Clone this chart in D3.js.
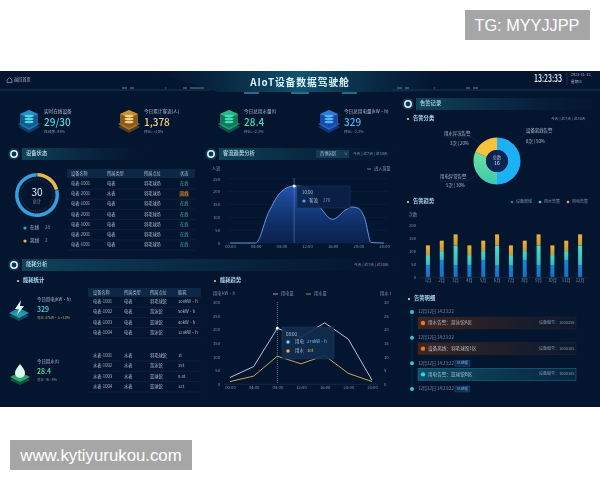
<!DOCTYPE html>
<html>
<head>
<meta charset="utf-8">
<script src="https://cdn.jsdelivr.net/npm/d3@7"></script>
<style>
  html, body { margin: 0; padding: 0; background: #fff; }
  svg { display: block; }
  text { font-family: "Noto Sans CJK SC", "Noto Sans", sans-serif; }
  .board { filter: blur(0.5px); }
</style>
</head>
<body>
<svg id="chart" width="600" height="480"></svg>
<script>
// values
var kpiLabels = ['实时在线设备', '今日累计客流(人)', '今日总用水量(t)', '今日总用电量(kW·h)'];
var kpiValues = ['29/30', '1,378', '28.4', '329'];
var kpiNotes = ['在线率: 98%', '环比: +10%', '环比: -2.3%', '环比: -2.3%'];
var statusTotals = [28, 2];
var statusNames = ['在线', '离线'];
var ringShares = [21, 79];
var deviceHead = ['设备名称', '所属类型', '所属点位', '状态'];
var deviceNames = ['电表-1001', '电表-2001', '电表-1001', '电表-2001', '电表-1001', '电表-2001', '电表-1001'];
var deviceTypes = ['电表', '水表', '电表', '电表', '电表', '电表', '电表'];
var deviceStates = ['在线', '离线', '在线', '在线', '在线', '在线', '在线'];
var flowHours = [0, 2, 4, 6, 8, 10, 12, 14, 16, 18, 19, 20, 21, 22, 24];
var flowValues = [0, 0, 0, 118, 200, 222, 215, 140, 92, 128, 140, 135, 95, 2, 0];
var energyHours = [0, 4, 8, 12, 16, 20, 24];
var elecValues = [25, 65, 205, 172, 225, 165, 15];
var waterValues = [1, 3, 10.3, 7.5, 10.5, 4, 1];
var elecRows = ['电表-1001', '电表-1002', '电表-1003', '电表-1004'];
var elecPlaces = ['羽毛球馆', '游泳馆', '篮球馆', '游泳馆'];
var elecUse = ['100kW·h', '50kW·h', '40kW·h', '120kW·h'];
var waterRows = ['水表-1001', '水表-1002', '水表-1003', '水表-1004'];
var waterPlaces = ['羽毛球馆', '游泳馆', '篮球馆', '篮球馆'];
var waterUse = ['1t', '15t', '0.4t', '12t'];
var alarmKinds = ['设备离线告警', '用电异常告警', '用水异况告警'];
var alarmCounts = [8, 5, 3];
var alarmTexts = ['8次 | 50%', '5次 | 30%', '3次 | 20%'];
var months = ['1月', '2月', '3月', '4月', '5月', '6月', '7月', '8月', '9月', '10月', '11月', '12月'];
var offlineBars = [45, 66, 45, 45, 66, 45, 45, 66, 45, 45, 66, 45];
var waterBars = [40, 34, 76, 40, 34, 76, 40, 34, 76, 40, 34, 76];
var elecBars = [37, 40, 43, 37, 40, 43, 37, 40, 43, 37, 40, 43];
var logTimes = ['12月12日 14:23:22', '12月12日 14:23:22', '12月12日 14:23:22', '12月12日 14:23:22'];
var logTexts = ['用水告警：游泳馆A区', '设备离线：羽毛球馆1区', '用电告警：篮球馆B区'];
var logCodes = ['设备编号：1000256', '设备编号：1000102', '设备编号：1000145'];

var svg = d3.select('#chart');
var defs = svg.append('defs');

var grad = function(id, stops, x2, y2) {
  var g = defs.append('linearGradient').attr('id', id)
    .attr('x1', 0).attr('y1', 0).attr('x2', x2).attr('y2', y2);
  stops.forEach(function(s) {
    g.append('stop').attr('offset', s[0]).attr('stop-color', s[1]).attr('stop-opacity', s[2]);
  });
};
grad('bar', [[0, '#0f4a60', 0.9], [0.55, '#0b3048', 0.6], [1, '#0a2038', 0.05]], 1, 0);
grad('area', [[0, '#2458b8', 0.95], [1, '#123070', 0.45]], 0, 1);
grad('head', [[0, '#0b2a44', 0], [0.5, '#115a78', 0.9], [1, '#0b2a44', 0]], 1, 0);
grad('ringG', [[0, '#6fe0a0', 1], [1, '#3cc8b0', 1]], 0, 1);
grad('card0', [[0, '#40261e', 1], [1, '#141c30', 0.6]], 1, 0);
grad('card1', [[0, '#0f5068', 1], [1, '#0a2c48', 0.7]], 1, 0);

// watermarks
svg.append('rect').attr('x', 465).attr('y', 10).attr('width', 125).attr('height', 30).attr('fill', '#a6a6a6');
svg.append('text').attr('x', 527).attr('y', 31).attr('text-anchor', 'middle').attr('fill', '#fff')
  .attr('font-size', 16.3).style('font-family', 'Liberation Sans').text('TG: MYYJJPP');
svg.append('rect').attr('x', 10).attr('y', 440).attr('width', 182).attr('height', 30).attr('fill', '#a6a6a6');
svg.append('text').attr('x', 101).attr('y', 461).attr('text-anchor', 'middle').attr('fill', '#fff')
  .attr('font-size', 16.8).style('font-family', 'Liberation Sans').text('www.kytiyurukou.com');

var board = svg.append('g').attr('class', 'board');
board.append('rect').attr('x', 0).attr('y', 71).attr('width', 600).attr('height', 336).attr('fill', '#041530');

var txt = function(x, y, s, size, color, anchor, weight) {
  return board.append('text').attr('x', x).attr('y', y).attr('font-size', size)
    .attr('fill', color).attr('text-anchor', anchor || 'start')
    .attr('font-weight', weight || 400).attr('dominant-baseline', 'middle').text(s);
};
var dim = '#7f96ad', soft = '#aebfce';

// header
board.append('path').attr('d', 'M150 71H450L425 92H218Z').attr('fill', 'url(#head)');
board.append('path').attr('d', 'M0 90H210M392 90H600').attr('stroke', '#123a58').attr('stroke-width', 1);
board.append('path').attr('d', 'M122 88H127M130 88H134M165 88H166M183 88H187M190 88H204M397 88H402M405 88H409M434 88H435M466 88H470M473 88H478')
  .attr('stroke', '#8aa0b4').attr('stroke-width', 0.8);
board.append('path').attr('d', 'M244 93H259M291 93H309M342 93H357').attr('stroke', '#39c8d8').attr('stroke-width', 1);
txt(300, 83, 'AIoT设备数据驾驶舱', 9.8, '#dff6fb', 'middle', 700).attr('letter-spacing', 0.9);
txt(14, 80, '返回首页', 4.2, soft);
board.append('path').attr('d', 'M7 80l2.5-2.5 2.5 2.5v2.5h-5z').attr('fill', 'none').attr('stroke', soft).attr('stroke-width', 0.6);
txt(534, 79.5, '13:23:33', 10, '#e9f2f7', 'start', 500).attr('textLength', 28).attr('lengthAdjust', 'spacingAndGlyphs');
txt(571, 75, '2023-11-12', 3.8, soft);
txt(571, 82, '星期三', 3.8, soft);
board.append('line').attr('x1', 567).attr('x2', 567).attr('y1', 73).attr('y2', 85).attr('stroke', '#33506a').attr('stroke-width', 0.5);

var section = function(x, y, w, title) {
  board.append('rect').attr('x', x + 8).attr('y', y - 6).attr('width', w).attr('height', 12).attr('fill', 'url(#bar)');
  board.append('circle').attr('cx', x).attr('cy', y).attr('r', 6).attr('fill', '#0f4f66').attr('fill-opacity', 0.6);
  board.append('circle').attr('cx', x).attr('cy', y).attr('r', 3.2).attr('fill', 'none').attr('stroke', '#e4f4fa').attr('stroke-width', 1.5);
  txt(x + 12, y, title, 5.3, '#c8dfea', 'start', 500);
};
var subhead = function(x, y, title, dotColor) {
  board.append('circle').attr('cx', x).attr('cy', y).attr('r', 1.1).attr('fill', dotColor || '#e8d890');
  txt(x + 5, y, title, 5.3, '#b0dcef', 'start', 700);
};

// kpi row
var kpiX = d3.scaleLinear().domain([0, 3]).range([18, 318]);
var kpiColors = [['#2fa8e0', '#135a94', '#4fd8e0'], ['#e8a838', '#8c5a18', '#f0cf88'], ['#2fd8a0', '#127a58', '#3fe0b8'], ['#3a90f0', '#1a48a8', '#4fb8f0']];
var drawIcon = function(g, c) {
  g.append('path').attr('d', 'M0 15L11 9 22 15 11 21Z').attr('fill', c[1]).attr('opacity', 0.6).attr('transform', 'translate(0,2)');
  g.append('path').attr('d', 'M0 14L11 8 22 14 11 20Z').attr('fill', c[0]).attr('opacity', 0.55);
  g.append('path').attr('d', 'M11 0L20 4V13L11 18 2 13V4Z').attr('fill', c[1]);
  g.append('path').attr('d', 'M11 0L20 4 11 8 2 4Z').attr('fill', c[0]).attr('opacity', 0.7);
  [6, 9, 12].forEach(function(y) {
    g.append('ellipse').attr('cx', 11).attr('cy', y).attr('rx', 4.5).attr('ry', 1.3).attr('fill', c[2]);
  });
};
kpiLabels.forEach(function(label, i) {
  var x = kpiX(i);
  drawIcon(board.append('g').attr('transform', 'translate(' + x + ',110)'), kpiColors[i]);
  txt(x + 26, 112, label, 4.6, soft);
  txt(x + 26, 123, kpiValues[i], 10, kpiColors[i][2], 'start', 500);
  txt(x + 26, 132, kpiNotes[i], 3.8, dim);
});

// device status
section(14, 154, 126, '设备状态');
var arc = d3.arc();
var ringPie = d3.pie().sort(null).value(function(d) { return d; })(ringShares);
var ring = board.append('g').attr('transform', 'translate(37,195)');
ring.selectAll('path').data(ringPie).enter().append('path')
  .attr('d', function(d) { return arc({innerRadius: 18.5, outerRadius: 22, startAngle: d.startAngle, endAngle: d.endAngle, padAngle: 0.02}); })
  .attr('fill', function(d, i) { return ['#e8b84c', '#35a0e0'][i]; });
ring.append('circle').attr('r', 16).attr('fill', 'none').attr('stroke', '#2d6d98').attr('stroke-width', 0.5).attr('stroke-dasharray', '1 1');
txt(37, 193, '30', 10, '#f0f6fa', 'middle');
txt(37, 202, '总计', 4.2, dim, 'middle');
statusNames.forEach(function(name, i) {
  var y = 228 + i * 13;
  board.append('circle').attr('cx', 25).attr('cy', y).attr('r', 1.6).attr('fill', ['#35a0e0', '#e8b84c'][i]);
  txt(30, y, name, 4.6, soft);
  txt(45, y, statusTotals[i], 4.6, dim);
});

var tableRow = d3.scaleLinear().domain([0, 6]).range([184, 245]);
var deviceCols = [71, 107, 144, 180];
board.append('rect').attr('x', 67).attr('y', 169).attr('width', 128).attr('height', 9).attr('fill', '#0d2746');
deviceHead.forEach(function(h, i) { txt(deviceCols[i], 173.5, h, 4.2, soft); });
deviceNames.forEach(function(name, i) {
  var y = tableRow(i);
  board.append('line').attr('x1', 67).attr('x2', 195).attr('y1', y + 5).attr('y2', y + 5).attr('stroke', '#12304a').attr('stroke-width', 0.5);
  txt(deviceCols[0], y, name, 4.2, soft);
  txt(deviceCols[1], y, deviceTypes[i], 4.2, soft);
  txt(deviceCols[2], y, '羽毛球场', 4.2, soft);
  if (deviceStates[i] === '离线') {
    board.append('rect').attr('x', 179).attr('y', y - 3).attr('width', 10).attr('height', 6).attr('fill', '#3a2a20');
  }
  txt(deviceCols[3], y, deviceStates[i], 4.2, deviceStates[i] === '离线' ? '#e0a040' : '#45b0a4');
});

// flow trend
section(211, 154, 178, '客流趋势分析');
board.append('rect').attr('x', 316).attr('y', 150).attr('width', 33).attr('height', 8).attr('fill', '#123a56');
txt(320, 154, '西博园区', 4.2, soft);
txt(344, 154, '∨', 3.6, soft);
txt(353, 154, '今天 | 近7天 | 近30天', 3.8, dim);
txt(216, 169, '人流', 4.2, dim, 'middle');
board.append('line').attr('x1', 367).attr('x2', 371).attr('y1', 169).attr('y2', 169).attr('stroke', soft).attr('stroke-width', 0.6);
txt(374, 169, '进入客量', 4.2, dim);

var flowX = d3.scaleLinear().domain([0, 24]).range([230, 384]);
var flowY = d3.scaleLinear().domain([0, 250]).range([243, 178.7]);
board.append('g').selectAll('line').data(flowY.ticks(5)).enter().append('line')
  .attr('x1', 228).attr('x2', 388).attr('y1', flowY).attr('y2', flowY)
  .attr('stroke', '#12294a').attr('stroke-width', 0.4);
var flowPts = flowHours.map(function(h, i) { return [h, flowValues[i]]; });
board.append('path').datum(flowPts).attr('fill', 'url(#area)')
  .attr('d', d3.area().x(function(d) { return flowX(d[0]); }).y0(flowY(0)).y1(function(d) { return flowY(d[1]); }).curve(d3.curveMonotoneX));
board.append('path').datum(flowPts).attr('fill', 'none').attr('stroke', '#6ea4e8').attr('stroke-width', 0.9)
  .attr('d', d3.line().x(function(d) { return flowX(d[0]); }).y(function(d) { return flowY(d[1]); }).curve(d3.curveMonotoneX));
board.append('line').attr('x1', flowX(10)).attr('x2', flowX(10)).attr('y1', 178).attr('y2', 243).attr('stroke', '#6f8fb8').attr('stroke-width', 0.5);
board.append('circle').attr('cx', flowX(10)).attr('cy', flowY(222)).attr('r', 1.5).attr('fill', '#fff');

var styleAxis = function(g) {
  g.select('.domain').remove();
  g.selectAll('.tick line').remove();
  g.selectAll('text').attr('fill', dim).attr('font-size', 4.2);
};
var hourFmt = function(h) { return d3.format('02')(h) + ':00'; };
board.append('g').attr('transform', 'translate(0,243)')
  .call(d3.axisBottom(flowX).tickValues(d3.range(0, 25, 4)).tickFormat(hourFmt).tickPadding(2).tickSize(0)).call(styleAxis);
board.append('g').attr('transform', 'translate(221,0)')
  .call(d3.axisLeft(flowY).tickValues(d3.range(0, 251, 50)).tickSize(0).tickPadding(1)).call(styleAxis);

board.append('rect').attr('x', 297).attr('y', 186).attr('width', 53).attr('height', 22)
  .attr('fill', '#0c2148').attr('fill-opacity', 0.85).attr('stroke', '#1e4670').attr('stroke-width', 0.4);
txt(302, 193, '10:00', 4.4, soft);
board.append('circle').attr('cx', 304).attr('cy', 201).attr('r', 1.6).attr('fill', '#4fa8f0');
txt(309, 201, '客流', 4.4, soft);
txt(323, 201, '270', 4.4, dim);

// energy analysis
section(14, 265, 373, '能耗分析');
subhead(18, 281, '能耗统计');
txt(354, 265, '今天 | 近7天 | 近30天', 3.8, dim);

var drawPlate = function(x, y, c) {
  var g = board.append('g').attr('transform', 'translate(' + x + ',' + y + ')');
  g.append('path').attr('d', 'M0 13L10 8 20 13 10 18Z').attr('fill', c[1]).attr('transform', 'translate(0,3)').attr('opacity', 0.7);
  g.append('path').attr('d', 'M0 13L10 8 20 13 10 18Z').attr('fill', c[0]).attr('opacity', 0.75);
  return g;
};
drawPlate(9, 300, ['#2fb8c8', '#14606e']).append('path').attr('d', 'M12 0L6 9H10L8 15 15 6H11Z').attr('fill', '#e0fbff');
drawPlate(10, 364, ['#36c880', '#186a48']).append('path').attr('d', 'M10 0C6 5 5 7 5 9A5 5 0 0 0 15 9C15 7 14 5 10 0Z').attr('fill', '#d8fbe8');

txt(37, 300, '今日用电(kW·h)', 4.4, soft);
txt(37, 310, '329', 7, '#4fd8e0', 'start', 500);
txt(37, 318, '对比 47kW·h  +10%', 3.6, '#b8a870');
txt(37, 362, '今日用水(t)', 4.4, soft);
txt(37, 372, '28.4', 7, '#4fe0a8', 'start', 500);
txt(37, 380, '对比 -9t  -8%', 3.6, dim);

var energyCols = [93, 124, 150, 178];
var energyHead = ['设备名称', '所属类型', '所属点位', '能耗'];
board.append('rect').attr('x', 88).attr('y', 288).attr('width', 113).attr('height', 9).attr('fill', '#0d2746');
energyHead.forEach(function(h, i) { txt(energyCols[i], 292.5, h, 4.2, soft); });
var drawEnergy = function(names, kind, places, use, top) {
  var rowY = d3.scaleLinear().domain([0, 3]).range([top, top + 31]);
  names.forEach(function(name, i) {
    var y = rowY(i);
    board.append('line').attr('x1', 88).attr('x2', 201).attr('y1', y + 5).attr('y2', y + 5).attr('stroke', '#12304a').attr('stroke-width', 0.5);
    [name, kind, places[i], use[i]].forEach(function(s, j) { txt(energyCols[j], y, s, 4.2, soft); });
  });
};
drawEnergy(elecRows, '电表', elecPlaces, elecUse, 302);
drawEnergy(waterRows, '水表', waterPlaces, waterUse, 356);

// energy trend
subhead(215, 281, '能耗趋势', '#e8b060');
txt(213, 294, '用电 kW·h', 4.2, dim);
txt(391, 294, '用水 t', 4.2, dim, 'end');
board.append('line').attr('x1', 273).attr('x2', 278).attr('y1', 294).attr('y2', 294).attr('stroke', '#cfe0ee').attr('stroke-width', 0.7);
txt(281, 294, '用电量', 4.2, dim);
board.append('line').attr('x1', 306).attr('x2', 311).attr('y1', 294).attr('y2', 294).attr('stroke', '#e8c060').attr('stroke-width', 0.7);
txt(314, 294, '用水量', 4.2, dim);

var enX = d3.scaleLinear().domain([0, 24]).range([230, 372]);
var elecY = d3.scaleLinear().domain([0, 300]).range([384.3, 302.3]);
var waterY = d3.scaleLinear().domain([0, 30]).range([384.3, 302.3]);
board.append('line').attr('x1', 224).attr('x2', 378).attr('y1', 384.3).attr('y2', 384.3).attr('stroke', '#1c3c5c').attr('stroke-width', 0.5);
board.append('g').attr('transform', 'translate(0,384.3)')
  .call(d3.axisBottom(enX).tickValues(energyHours).tickFormat(hourFmt).tickPadding(2).tickSize(0)).call(styleAxis);
board.append('g').attr('transform', 'translate(221,0)')
  .call(d3.axisLeft(elecY).tickValues(d3.range(0, 301, 50)).tickSize(0).tickPadding(1)).call(styleAxis);
board.append('g').attr('transform', 'translate(383,0)')
  .call(d3.axisRight(waterY).tickValues(d3.range(0, 31, 5)).tickSize(0).tickPadding(1)).call(styleAxis);
board.append('path').datum(waterValues).attr('fill', 'none').attr('stroke', '#e0b850').attr('stroke-width', 0.9)
  .attr('d', d3.line().x(function(d, i) { return enX(energyHours[i]); }).y(function(d) { return waterY(d); }));
board.append('path').datum(elecValues).attr('fill', 'none').attr('stroke', '#c4d8ea').attr('stroke-width', 0.9)
  .attr('d', d3.line().x(function(d, i) { return enX(energyHours[i]); }).y(function(d) { return elecY(d); }));
board.append('line').attr('x1', enX(8)).attr('x2', enX(8)).attr('y1', 302).attr('y2', 384)
  .attr('stroke', '#8fb0cc').attr('stroke-width', 0.6).attr('stroke-dasharray', '1 1');
board.append('circle').attr('cx', enX(8)).attr('cy', elecY(205)).attr('r', 1.4).attr('fill', '#fff');
board.append('rect').attr('x', 282).attr('y', 327).attr('width', 52).attr('height', 32)
  .attr('fill', '#122c50').attr('fill-opacity', 0.9).attr('stroke', '#1e4670').attr('stroke-width', 0.4);
txt(286, 335, '08:00', 4.4, soft);
board.append('circle').attr('cx', 288).attr('cy', 342).attr('r', 1.7).attr('fill', '#6fd8f0');
txt(295, 342, '用电', 4.4, soft);
txt(307, 342, '270kW·h', 4.2, '#6fc8e0');
board.append('circle').attr('cx', 288).attr('cy', 351).attr('r', 1.7).attr('fill', '#e8b848');
txt(295, 351, '用水', 4.4, soft);
txt(307, 351, '10t', 4.2, '#e0c878');

// alarm record
section(408, 104, 186, '告警记录');
subhead(408, 119, '告警分类');
txt(551, 119, '今天 | 近7天 | 近30天', 3.8, dim);
var pie = d3.pie().sort(null).value(function(d) { return d; })(alarmCounts);
var donut = board.append('g').attr('transform', 'translate(497,161)');
donut.selectAll('path').data(pie).enter().append('path')
  .attr('d', function(d) { return arc({innerRadius: 11, outerRadius: 23.5, startAngle: d.startAngle, endAngle: d.endAngle}); })
  .attr('fill', function(d, i) { return ['#1cb0f4', 'url(#ringG)', '#f4c23c'][i]; });
donut.append('circle').attr('r', 11).attr('fill', '#0c2454');
txt(497, 158, '总数', 4.2, soft, 'middle');
txt(497, 164, '16', 5, '#e4eef6', 'middle');
board.append('path').attr('d', 'M513 144L526 133H548M480 144L472 137H444M478 173L468 181H440')
  .attr('fill', 'none').attr('stroke', '#1f4a68').attr('stroke-width', 0.4);
txt(526, 131, alarmKinds[0], 4.4, soft);
txt(526, 142, alarmTexts[0], 4.4, soft);
txt(444, 134, alarmKinds[2], 4.4, soft);
txt(450, 144, alarmTexts[2], 4.4, soft);
txt(440, 177, alarmKinds[1], 4.4, soft);
txt(446, 186, alarmTexts[1], 4.4, soft);

// alarm trend bars
subhead(408, 202, '告警趋势');
['设备离线', '用水告警', '用电告警'].forEach(function(s, i) {
  var x = 512 + i * 28;
  board.append('circle').attr('cx', x).attr('cy', 202).attr('r', 1.3).attr('fill', ['#1a78c8', '#3fd8c8', '#e8a93a'][i]);
  txt(x + 4, 202, s, 4, dim);
});
txt(413, 215, '次数', 4.2, dim, 'middle');
var barX = d3.scaleBand().domain(months).range([419, 589]).paddingInner(0.71).paddingOuter(0.5);
var barY = d3.scaleLinear().domain([0, 200]).range([277.3, 225]);
var stackRows = months.map(function(m, i) { return {m: m, a: offlineBars[i], b: waterBars[i], c: elecBars[i]}; });
var layers = d3.stack().keys(['a', 'b', 'c'])(stackRows);
var barGrads = [['#1a84d8', '#1670c0'], ['#44e0c8', '#34b8bc'], ['#f0b038', '#c49a3a']];
barGrads.forEach(function(c, i) { grad('b' + i, [[0, c[0], 1], [1, c[1], 1]], 0, 1); });
board.append('g').selectAll('g').data(layers).enter().append('g')
  .attr('fill', function(d, i) { return 'url(#b' + i + ')'; })
  .selectAll('rect').data(function(d) { return d; }).enter().append('rect')
  .attr('x', function(d) { return barX(d.data.m); })
  .attr('width', barX.bandwidth())
  .attr('y', function(d) { return barY(d[1]); })
  .attr('height', function(d) { return barY(d[0]) - barY(d[1]); });
board.append('line').attr('x1', 419).attr('x2', 589).attr('y1', 277.3).attr('y2', 277.3).attr('stroke', '#1c3c5c').attr('stroke-width', 0.5);
board.append('g').attr('transform', 'translate(0,277.3)')
  .call(d3.axisBottom(barX).tickSize(0).tickPadding(2)).call(styleAxis);
board.append('g').attr('transform', 'translate(417,0)')
  .call(d3.axisLeft(barY).tickValues(d3.range(0, 201, 50)).tickSize(0).tickPadding(1)).call(styleAxis);

// alarm log
subhead(409, 299, '告警明细', '#e0e0d0');
var logY = d3.scaleLinear().domain([0, 3]).range([312, 389]);
board.append('line').attr('x1', 412).attr('x2', 412).attr('y1', logY(0)).attr('y2', logY(3)).attr('stroke', '#134058').attr('stroke-width', 0.6);
var cardFill = ['url(#card0)', 'url(#card0)', 'url(#card1)'];
var cardEdge = ['#33282c', '#33282c', '#2c90a8'];
var cardDot = ['#e87830', '#e87830', '#40c8e0'];
logTimes.forEach(function(t, i) {
  var y = logY(i);
  board.append('circle').attr('cx', 412).attr('cy', y).attr('r', 2).attr('fill', '#35c4cc');
  txt(418, y, t, 4.3, dim);
  if (i > 1) {
    board.append('rect').attr('x', 455).attr('y', y - 3).attr('width', 15).attr('height', 6)
      .attr('fill', '#0d2c50').attr('stroke', '#2c6a98').attr('stroke-width', 0.3);
    txt(462.5, y, '已处理', 3.6, '#7fc8e8', 'middle');
  }
  if (i < 3) {
    board.append('rect').attr('x', 418).attr('y', y + 5).attr('width', 158).attr('height', 12)
      .attr('fill', cardFill[i]).attr('stroke', cardEdge[i]).attr('stroke-width', 0.4);
    board.append('circle').attr('cx', 423).attr('cy', y + 11).attr('r', 2.2).attr('fill', cardDot[i]);
    txt(428, y + 11, logTexts[i], 4.6, soft);
    txt(539, y + 11, logCodes[i], 4, dim);
  }
});
</script>
</body>
</html>
